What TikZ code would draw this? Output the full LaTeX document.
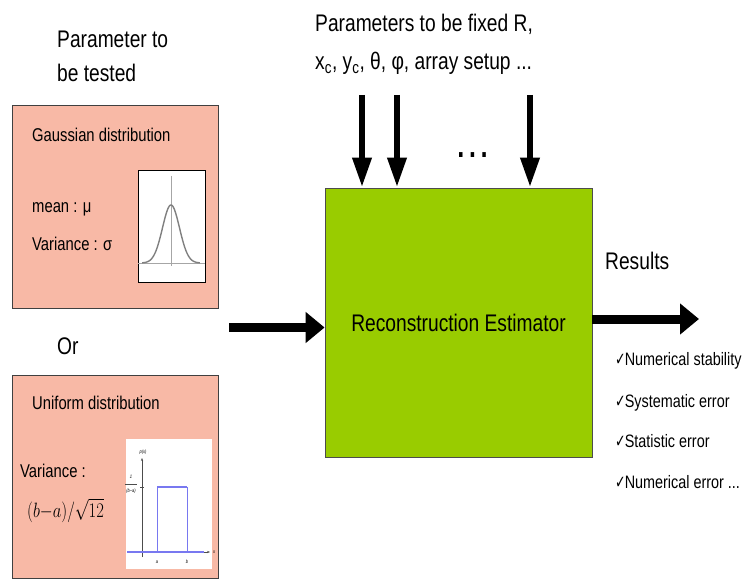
\documentclass[tikz,border=0pt]{standalone}
\usepackage{fontspec}
\usepackage{graphicx}
\setmainfont[FakeStretch=0.8]{Liberation Sans}
\newfontfamily\tickfont[FakeStretch=0.7]{DejaVu Sans}
\usetikzlibrary{arrows.meta}
\definecolor{salmon}{RGB}{248,185,166}
\definecolor{limegreen}{RGB}{153,204,0}
\definecolor{plotblue}{RGB}{120,120,240}

\begin{document}
\begin{tikzpicture}[x=1pt,y=-1pt]
	\tikzset{
		txt/.style={inner sep=0pt,anchor=base west},
		big/.style={font=\fontsize{24}{28}\selectfont},
		mid/.style={font=\fontsize{18.5}{22}\selectfont},
		lst/.style={font=\fontsize{18}{22}\selectfont},
		distbox/.style={draw=black!75,line width=0.8pt,fill=salmon,minimum width=206pt,minimum height=203pt,inner sep=0pt},
		fat/.style={line width=9pt,-{Triangle[length=19pt,width=30pt]}},
		slim/.style={line width=6.5pt,-{Triangle[length=30pt,width=18pt]}},
		wee/.style={font=\fontsize{5}{6}\selectfont\itshape,inner sep=0pt}
	}
	\useasboundingbox (0,0) rectangle (744,580);
	% parameter under test
	\node[txt,big] (pt1) at (57,48) {Parameter to};
	\node[txt,big] (pt2) at (57,82) {be tested};
	% gaussian case
	\node[distbox] (gbox) at (115,206.5) {};
	\node[txt,mid] (gname) at (32,142) {Gaussian distribution};
	\node[txt,mid] (gmean) at (32,212) {mean : μ};
	\node[txt,mid] (gvar) at (32,250) {Variance : σ};
	\node[draw=black,line width=0.6pt,fill=white,minimum width=67pt,minimum height=112pt,inner sep=0pt] (gplot) at (171.5,226) {};
	\draw[black!35,line width=0.5pt] (138,263) -- (205,263);
	\draw[black!35,line width=0.4pt] (171,176) -- (171,266);
	\draw[black!50,line width=1.4pt] plot[domain=-3.4:3.4,samples=80,smooth] ({171+8.5*\x},{263-58*exp(-\x*\x/2)});
	% or
	\node[txt,big] (or) at (57,354) {Or};
	% uniform case
	\node[distbox] (ubox) at (115,476.5) {};
	\node[txt,mid] (uname) at (32,409) {Uniform distribution};
	\node[txt,mid] (uvar) at (20,477) {Variance :};
	\node[txt,font=\fontsize{21}{24}\selectfont] (uform) at (27,517) {\scalebox{0.8}[1]{$(b{-}a)/\sqrt{12}$}};
	\node[fill=white,minimum width=86pt,minimum height=130pt,inner sep=0pt] (uplot) at (169,504) {};
	\draw[black!70,line width=0.5pt,-{Stealth[length=3pt]}] (142,557) -- (142,458);
	\draw[black!70,line width=0.5pt,-{Stealth[length=3pt]}] (138,552) -- (210,552);
	\draw[plotblue,line width=1.2pt] (127,552) -- (204,552);
	\draw[plotblue,line width=0.7pt] (157,552) -- (157,487) -- (187,487) -- (187,552);
	\draw[plotblue,line width=1.3pt] (157,487) -- (187,487);
	\draw[black!70,line width=0.4pt] (140,487) -- (144,487);
	\node[wee] (px) at (143,452) {p(x)};
	\node[wee] (one) at (131,477) {1};
	\draw[black!70,line width=0.3pt] (125,484) -- (137,484);
	\node[wee] (bma) at (131,491) {(b−a)};
	\node[wee] (ta) at (157,562) {a};
	\node[wee] (tb) at (187,562) {b};
	\node[wee] (tx) at (214,552) {x};
	% estimator
	\node[draw=black!70,line width=0.8pt,fill=limegreen,minimum width=267pt,minimum height=269pt,inner sep=0pt,big] (est) at (458.5,322.5) {Reconstruction Estimator};
	\coordinate (lin) at (229,327.5);
	\draw[fat] (lin) -- (est.west |- lin);
	% fixed parameters
	\node[txt,big] (fx1) at (315,32) {Parameters to be fixed R,};
	\node[txt,big] (fx2) at (315,70) {x\textsubscript{c}, y\textsubscript{c}, θ, φ, array setup ...};
	\coordinate (f1) at (362,95);
	\coordinate (f2) at (397,95);
	\coordinate (f3) at (530,95);
	\draw[slim] (f1) -- (f1 |- est.north);
	\draw[slim] (f2) -- (f2 |- est.north);
	\draw[slim] (f3) -- (f3 |- est.north);
	\node[inner sep=0pt,anchor=base,font=\fontsize{46}{46}\selectfont] (dots) at (473,158) {…};
	% results
	\node[txt,big] (res) at (605,269) {Results};
	\coordinate (rout) at (699,319);
	\draw[fat] (est.east |- rout) -- (rout);
	\node[txt,lst] (r1) at (615,365) {{\tickfont ✓}\kern-1pt Numerical stability};
	\node[txt,lst] (r2) at (615,407) {{\tickfont ✓}\kern-1pt Systematic error};
	\node[txt,lst] (r3) at (615,447) {{\tickfont ✓}\kern-1pt Statistic error};
	\node[txt,lst] (r4) at (615,488) {{\tickfont ✓}\kern-1pt Numerical error ...};
\end{tikzpicture}
\end{document}
